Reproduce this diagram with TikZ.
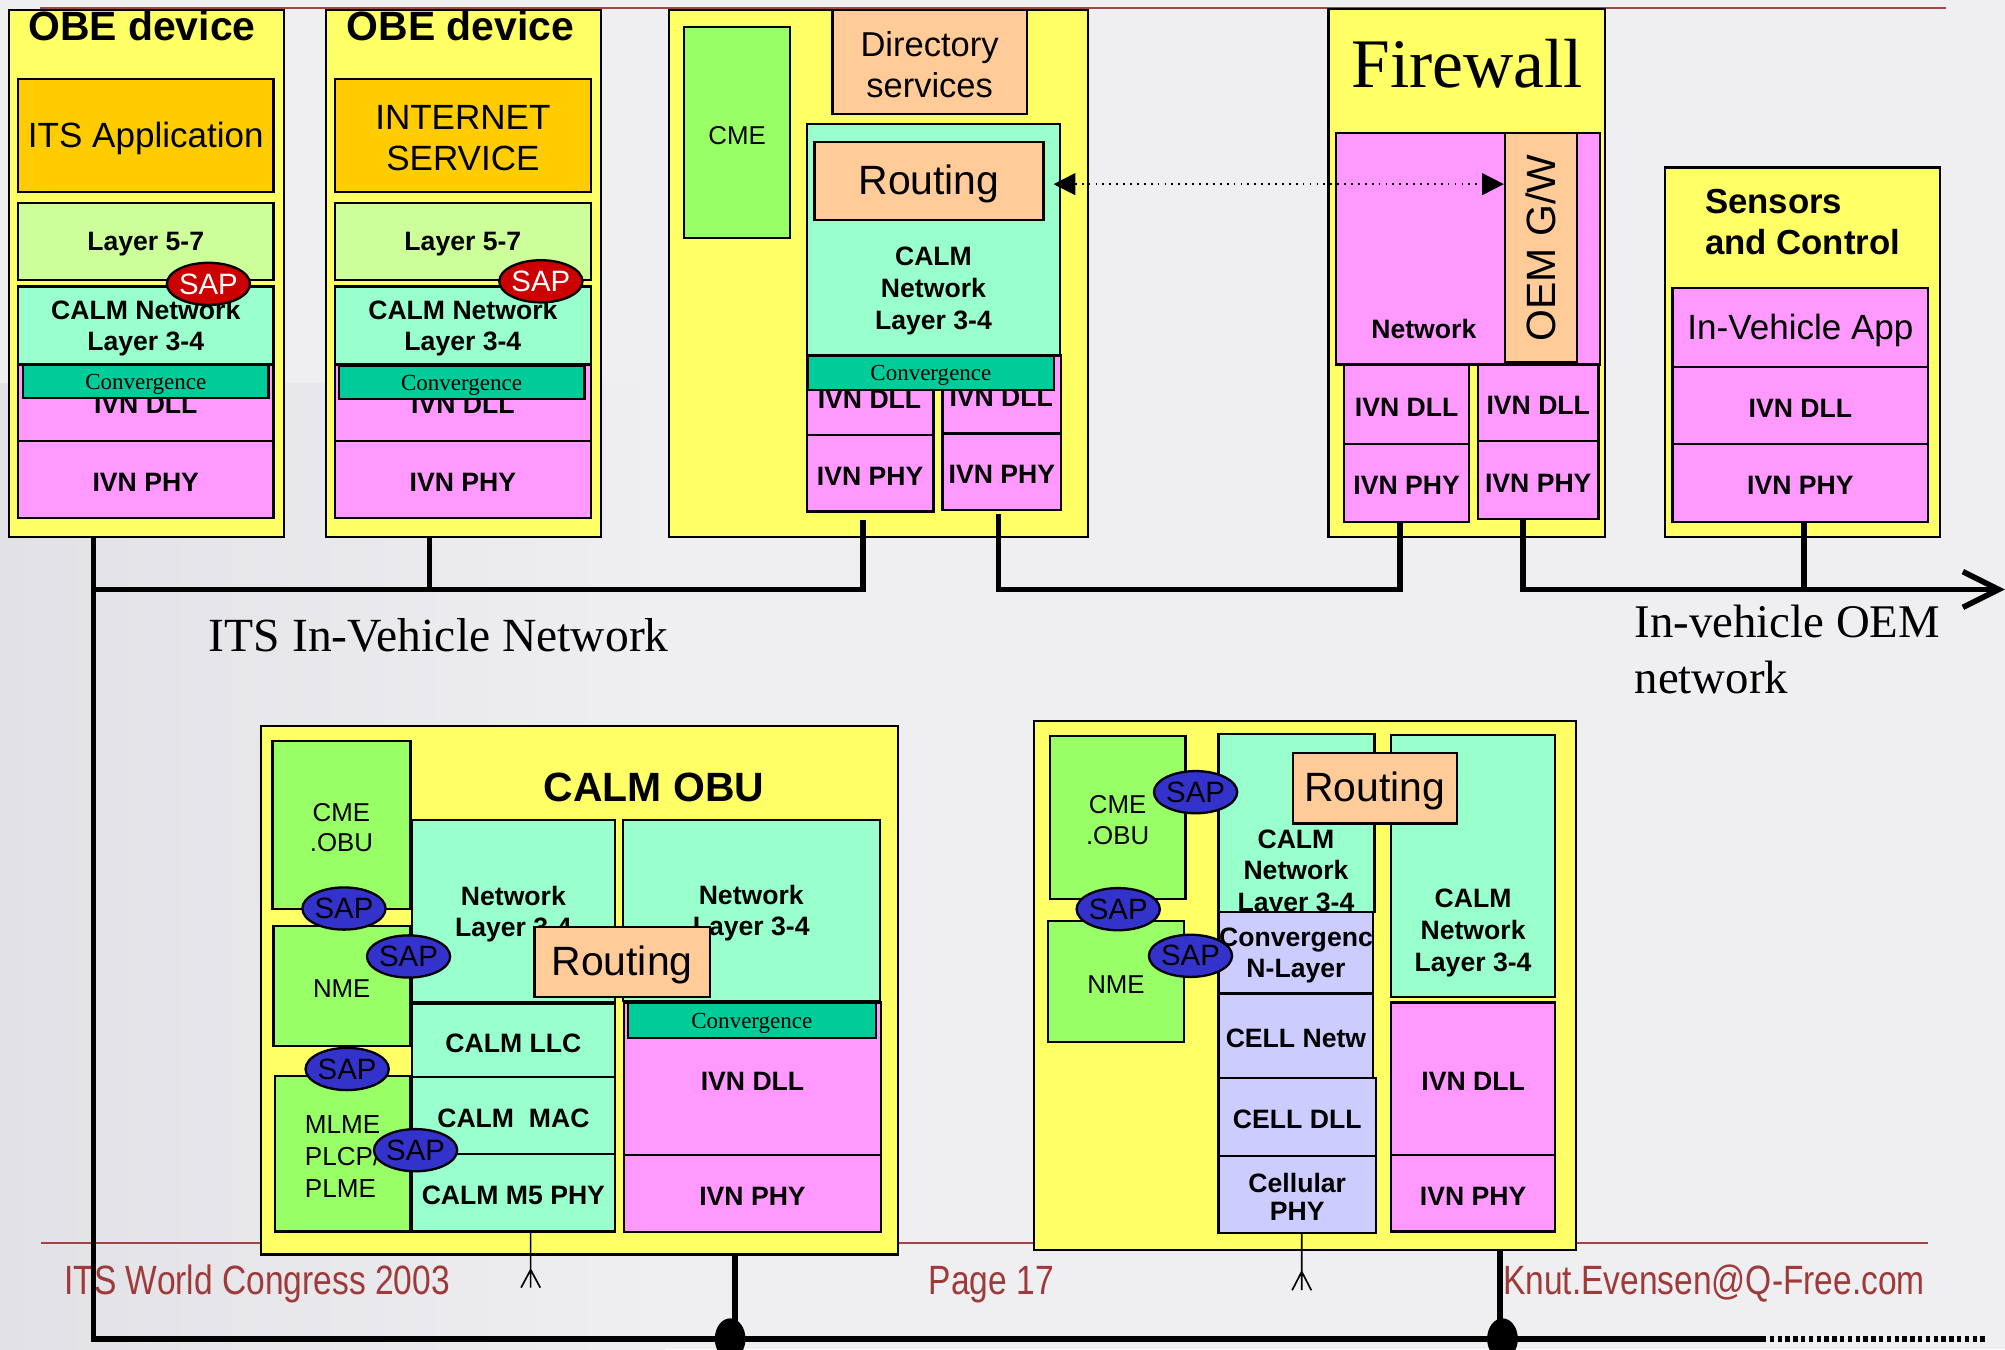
\documentclass[tikz,border=0pt]{standalone}
\usepackage{fontspec}
\setmainfont{Liberation Sans}
\newfontfamily\tmsfont{Liberation Serif}
\usetikzlibrary{shapes.geometric,arrows.meta}

\definecolor{bgc}{HTML}{EFEFF2}
\definecolor{bgdark}{HTML}{E2E2E6}
\definecolor{yel}{HTML}{FFFF66}
\definecolor{appor}{HTML}{FFCC00}
\definecolor{lime}{HTML}{CCFF99}
\definecolor{mint}{HTML}{99FFCC}
\definecolor{convg}{HTML}{00CC99}
\definecolor{pink}{HTML}{FF99FF}
\definecolor{peach}{HTML}{FFCC99}
\definecolor{grn}{HTML}{99FF66}
\definecolor{lav}{HTML}{CCCCFF}
\definecolor{sapr}{HTML}{CC0000}
\definecolor{sapb}{HTML}{3333CC}
\definecolor{rule}{HTML}{A04444}
\definecolor{foot}{HTML}{9E3A3A}

% block from corner (x1,y1) to corner (x2,y2):
% name, x1, y1, x2, y2, fill colour, text options, text
\newcommand\blk[8]{%
  \node[box,fill=#6,minimum width={(#4-#2)*0.5pt},minimum height={(#5-#3)*0.5pt}] (#1) at ({(#2+#4)/2},{(#3+#5)/2}) {};
  \node[txt,#7] (#1-t) at ([yshift=-1.1pt]#1.center) {#8};}

\tikzset{
  box/.style={rectangle,draw=black,line width=0.9pt,inner sep=0pt},
  txt/.style={inner sep=0pt,align=center},
  fb/.style={font=\fontsize{10.4}{12.4}\selectfont\bfseries},
  fr/.style={font=\fontsize{10.1}{12.2}\selectfont},
  fm/.style={font=\fontsize{13.7}{16}\selectfont},
  fl/.style={font=\fontsize{16}{19}\selectfont},
  flb/.style={font=\fontsize{16}{19}\selectfont\bfseries},
  conv/.style={font=\tmsfont\fontsize{9}{10}\selectfont},
  sapR/.style={ellipse,draw=black,line width=0.9pt,fill=sapr,text=white,inner sep=0pt,
    minimum width=29pt,minimum height=16.5pt,font=\fontsize{11.5}{12}\selectfont},
  sapB/.style={sapR,fill=sapb,text=black},
  bus/.style={line width=2.2pt},
  ant/.style={line width=0.65pt},
  foottxt/.style={inner sep=0pt,anchor=base west,text=foot,font=\fontsize{16}{19}\selectfont},
}

\begin{document}
\begin{tikzpicture}[x=0.5pt,y=-0.5pt]
\useasboundingbox (0,0) rectangle (1568,1055);
% page background
\fill[bgc] (0,0) rectangle (1568,1055);
\shade[left color=bgdark,right color=bgc] (0,300) rectangle (520,1055);

% slide rules and footer
\draw[rule,line width=0.8pt] (31,6.5) -- (1522,6.5);
\draw[rule,line width=1.1pt] (32,972) -- (1508,972);
\node[foottxt] (ftl) at (50,1012) {\scalebox{0.82}[1]{ITS World Congress 2003}};
\node[foottxt] (ftc) at (726,1012) {\scalebox{0.82}[1]{Page 17}};
\node[foottxt] (ftr) at (1175,1012) {\scalebox{0.82}[1]{Knut.Evensen@Q-Free.com}};

% ---------- OBE device: ITS application ----------
\blk{obeA}{7}{8}{222}{420}{yel}{}{}
\node[txt,flb] (obeAt) at (111,20) {OBE device};
\blk{appA}{14}{62}{214}{150}{appor}{fm}{ITS Application}
\blk{l57A}{14}{159}{214}{219}{lime}{fb}{Layer 5-7}
\blk{netA}{14}{224}{214}{285}{mint}{fb}{CALM Network\\Layer 3-4}
\blk{dllA}{14}{285}{214}{345}{pink}{}{}
\node[txt,fb] (dllAt) at (114,316.5) {IVN DLL};
\blk{phyA}{14}{345}{214}{405}{pink}{fb}{IVN PHY}
\blk{cvA}{18}{285}{210}{311}{convg}{conv}{Convergence}
\node[sapR] (sapA) at (163,222) {SAP};

% ---------- OBE device: internet service ----------
\blk{obeB}{255}{8}{470}{420}{yel}{}{}
\node[txt,flb] (obeBt) at (360,20) {OBE device};
\blk{appB}{262}{62}{462}{150}{appor}{fm}{INTERNET\\SERVICE}
\blk{l57B}{262}{159}{462}{219}{lime}{fb}{Layer 5-7}
\blk{netB}{262}{224}{462}{285}{mint}{fb}{CALM Network\\Layer 3-4}
\blk{dllB}{262}{285}{462}{345}{pink}{}{}
\node[txt,fb] (dllBt) at (362,316.5) {IVN DLL};
\blk{phyB}{262}{345}{462}{405}{pink}{fb}{IVN PHY}
\blk{cvB}{265}{286}{457}{312}{convg}{conv}{Convergence}
\node[sapR] (sapB1) at (423,220) {SAP};

% ---------- router with directory services ----------
\blk{rtr}{523}{8}{851}{420}{yel}{}{}
\blk{cme3}{535}{21}{618}{186}{grn}{fr}{CME}
\blk{dir}{651}{8}{803}{89}{peach}{font=\fontsize{13.5}{16}\selectfont}{Directory\\services}
\blk{net3}{631}{97}{829}{278}{mint}{}{}
\node[txt,fb] (net3t) at (730,227.5) {CALM\\Network\\Layer 3-4};
\blk{rout3}{637}{111}{816}{172}{peach}{fl}{Routing}
\blk{dll3a}{631}{278}{730}{340}{pink}{}{}
\blk{dll3b}{737}{278}{830}{339}{pink}{}{}
\node[txt,fb] (dll3at) at (680,312) {IVN DLL};
\node[txt,fb] (dll3bt) at (783,311) {IVN DLL};
\blk{phy3a}{631}{340}{730}{400}{pink}{fb}{IVN PHY}
\blk{phy3b}{737}{339}{830}{399}{pink}{fb}{IVN PHY}
\blk{cv3}{631.5}{278}{824.5}{305}{convg}{conv}{Convergence}

% ---------- firewall ----------
\blk{fw}{1039}{7}{1255}{420}{yel}{}{}
\node[txt,font=\tmsfont\fontsize{27.2}{30}\selectfont] (fwt) at (1147.5,50) {Firewall};
\blk{fwnet}{1045}{104}{1251}{285}{pink}{}{}
\node[txt,fb] (fwnett) at (1113.5,257) {Network};
\blk{oem}{1177}{104}{1233}{283}{peach}{}{}
\node[txt,fl,rotate=90] (oemt) at (1205,194) {OEM G/W};
\blk{fwdll1}{1051}{285}{1149}{347}{pink}{fb}{IVN DLL}
\blk{fwdll2}{1156}{285}{1250}{345}{pink}{fb}{IVN DLL}
\blk{fwphy1}{1051}{347}{1149}{408}{pink}{fb}{IVN PHY}
\blk{fwphy2}{1156}{345}{1250}{406}{pink}{fb}{IVN PHY}

% ---------- sensors and control ----------
\blk{sen}{1302}{131}{1517}{420}{yel}{}{}
\node[inner sep=0pt,align=left,anchor=west,font=\fontsize{13.6}{16}\selectfont\bfseries] (sent) at (1333,173.5) {Sensors\\and Control};
\blk{iva}{1308}{225}{1508}{287}{pink}{fm}{In-Vehicle App}
\blk{sdll}{1308}{287}{1508}{347}{pink}{fb}{IVN DLL}
\blk{sphy}{1308}{347}{1508}{408}{pink}{fb}{IVN PHY}

% gateway link between the routing entity and the OEM gateway
\coordinate (gwA) at ([shift={(7,2.5)}]rout3.east);
\draw[dotted,line width=0.7pt,{Triangle[length=8.5pt,width=8.5pt]}-{Triangle[length=8.5pt,width=8.5pt]}] (gwA) -- (gwA -| oem.west);

% ---------- CALM OBU ----------
\blk{obu}{204}{568}{702}{981}{yel}{}{}
\node[txt,flb] (obut) at (511.5,615.5) {CALM OBU};
\blk{cmeo}{213}{579.5}{321}{711}{grn}{font=\fontsize{10.1}{11.8}\selectfont}{CME\\.OBU}
\blk{nmeo}{214}{724}{320.5}{818}{grn}{fr}{NME}
\blk{mlme}{215}{841.5}{321}{963}{grn}{align=left,font=\fontsize{10.2}{12.4}\selectfont}{MLME\\PLCP/\\PLME}
\blk{netl}{322}{641}{481}{784}{mint}{font=\fontsize{10.4}{12.3}\selectfont\bfseries}{Network\\Layer 3-4}
\blk{netr}{487}{641}{688}{783}{mint}{font=\fontsize{10.4}{12.3}\selectfont\bfseries}{Network\\Layer 3-4}
\blk{routo}{418}{725}{555}{779.5}{peach}{fl}{Routing}
\blk{llc}{322}{785}{481}{842}{mint}{fb}{CALM LLC}
\blk{mac}{322}{842}{481}{902.5}{mint}{fb}{CALM\ \ MAC}
\blk{m5}{322}{902.5}{481}{963}{mint}{fb}{CALM M5 PHY}
\blk{dllo}{488}{784}{689}{903}{pink}{fb}{IVN DLL}
\blk{cvo}{491}{784.5}{685}{812}{convg}{conv}{Convergence}
\blk{phyo}{488}{903}{689}{963.5}{pink}{fb}{IVN PHY}
\node[sapB] (sapo1) at (269,710.5) {SAP};
\node[sapB] (sapo2) at (319.5,748) {SAP};
\node[sapB] (sapo3) at (271.5,836) {SAP};
\node[sapB] (sapo4) at (325,899.5) {SAP};

% ---------- cellular OBU ----------
\blk{cell}{808.5}{564}{1232.5}{977.5}{yel}{}{}
\blk{cmec}{821}{575.5}{927}{703}{grn}{font=\fontsize{10.1}{12.2}\selectfont}{CME\\.OBU}
\blk{nmec}{819.5}{720}{926}{815}{grn}{fr}{NME}
\blk{cnl}{953}{574}{1075}{713}{mint}{}{}
\node[txt,fb] (cnlt) at (1013.5,683) {CALM\\Network\\Layer 3-4};
\blk{cvn}{953}{713}{1074}{777}{lav}{fb}{Convergenc\\N-Layer}
\blk{celln}{953}{777}{1074}{843}{lav}{fb}{CELL Netw}
\blk{celld}{953}{843}{1076}{904}{lav}{fb}{CELL DLL}
\blk{cellp}{953}{904}{1076}{964}{lav}{font=\fontsize{10.4}{11}\selectfont\bfseries}{Cellular\\PHY}
\blk{cnr}{1088}{575}{1216}{779.5}{mint}{}{}
\node[txt,fb] (cnrt) at (1152,729.5) {CALM\\Network\\Layer 3-4};
\blk{dllc}{1088}{784}{1216}{903}{pink}{fb}{IVN DLL}
\blk{phyc}{1088}{903}{1216}{963}{pink}{fb}{IVN PHY}
\blk{routc}{1011}{589}{1139.5}{644}{peach}{fl}{Routing}
\node[sapB] (sapc1) at (935,619.5) {SAP};
\node[sapB] (sapc2) at (874.5,711) {SAP};
\node[sapB] (sapc3) at (931,747.5) {SAP};

% ---------- in-vehicle networks ----------
\coordinate (tA) at (73,420);
\coordinate (tB) at (336,420);
\coordinate (t3a) at (675,407);
\coordinate (t3b) at (781,402);
\coordinate (tfw1) at (1095,408);
\coordinate (tfw2) at (1191,406);
\coordinate (tsen) at (1411,408);
\coordinate (itsJ) at (73,461);
\coordinate (oemEnd) at (1563,461);
\coordinate (busS) at (1378,1047);
\coordinate (busD) at (1552,1047);
\coordinate (tobu) at (575,981);
\coordinate (tcell) at (1173,978);

\draw[bus] (t3a) |- (itsJ);
\draw[bus] (tB) -- (tB |- itsJ);
\draw[bus] (tA) |- (busS);
\draw[bus,line width=2.35pt,dash pattern=on 1.7pt off 1.35pt] (busS) -- (busD);
\draw[bus] (t3b) -- (t3b |- itsJ) -| (tfw1);
\draw[bus] (tfw2) |- (oemEnd);
\draw[bus] (tsen) -- (tsen |- oemEnd);
\draw[bus,line join=miter] ([shift={(-28,-14)}]oemEnd) -- (oemEnd) -- ([shift={(-28,14)}]oemEnd);
\draw[bus] (tobu) -- (tobu |- busS);
\draw[bus] (tcell) -- (tcell |- busS);
\node[ellipse,fill=black,inner sep=0pt,minimum width=12pt,minimum height=16pt] (tapO) at (571,1047) {};
\node[ellipse,fill=black,inner sep=0pt,minimum width=12pt,minimum height=16pt] (tapC) at (1175,1047) {};

\node[anchor=west,inner sep=0pt,font=\tmsfont\fontsize{18.6}{20}\selectfont] (itsn) at (163,497) {ITS In-Vehicle Network};
\node[anchor=west,inner sep=0pt,align=left,font=\tmsfont\fontsize{18.3}{22}\selectfont] (oemn) at (1278,508) {In-vehicle OEM\\network};

% antennas
\coordinate (ant1) at (415,964);
\coordinate (ant2) at (1018,965);
\draw[ant] (ant1) -- ++(0,43) (ant1) ++(-7.5,43) -- ++(7.5,-14) -- ++(7.5,14);
\draw[ant] (ant2) -- ++(0,44) (ant2) ++(-7.5,44) -- ++(7.5,-14.5) -- ++(7.5,14.5);
\end{tikzpicture}
\end{document}
